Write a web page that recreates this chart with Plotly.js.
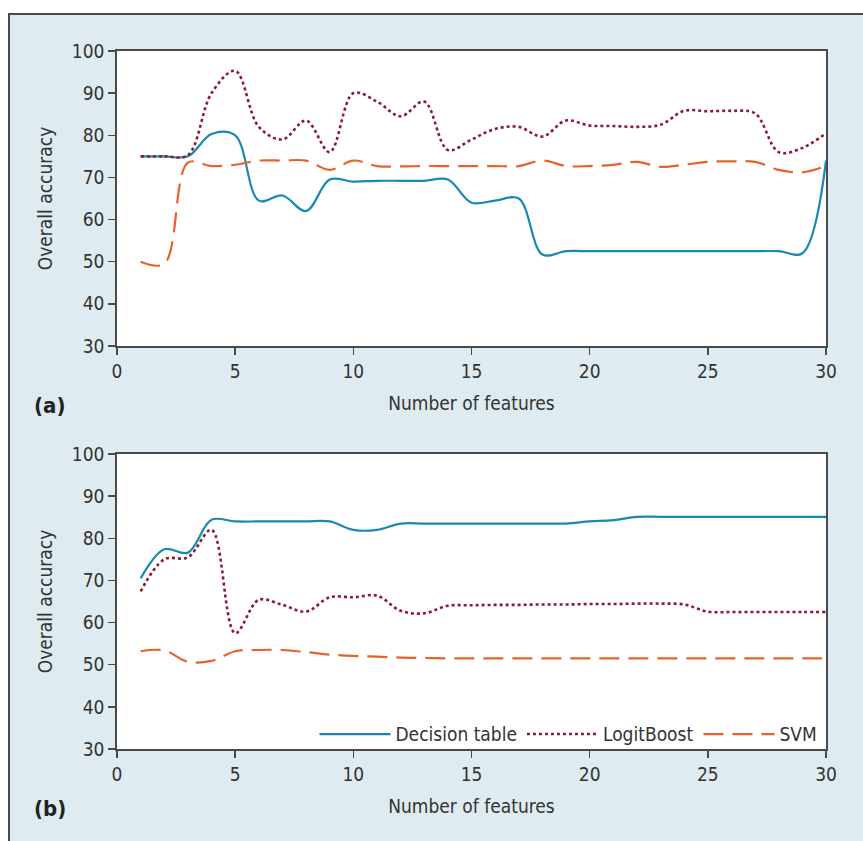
<!DOCTYPE html>
<html>
<head>
<meta charset="utf-8">
<script src="https://cdn.plot.ly/plotly-3.0.1.min.js"></script>
<style>
  html, body { margin: 0; padding: 0; background: #ffffff; }
  #frame { position: absolute; left: 8px; top: 13px; width: 855px; height: 828px;
           border-left: 2px solid #4a4a4a; border-top: 2px solid #4a4a4a; background: #deebf1; }
  #chart { width: 853px; height: 826px; }
</style>
</head>
<body>
<div id="frame"><div id="chart"></div></div>
<script>
// ---- data ----
const features = [1,2,3,4,5,6,7,8,9,10,11,12,13,14,15,16,17,18,19,20,21,22,23,24,25,26,27,28,29,30];

// (a)
const decisionTableA = [75,75,75,80.3,80,64.5,65.7,62,69.5,69,69.2,69.2,69.2,69.5,64,64.5,65,51.7,52.5,52.5,52.5,52.5,52.5,52.5,52.5,52.5,52.5,52.5,52,74];
const logitBoostA    = [75,75,75.3,90,95.3,82,79,83.5,76,90,88,84.5,88,76.5,79,81.5,82,79.7,83.5,82.3,82.2,82,82.5,85.8,85.7,85.8,85.2,76,77,80.5];
const svmA           = [50,49.5,73.5,72.7,73,74,74,74,71.8,74,72.7,72.6,72.7,72.7,72.7,72.7,72.7,74,72.7,72.7,73,73.7,72.5,73,73.7,73.8,73.7,71.8,71.2,72.7];

// (b)
const decisionTableB = [70.5,77.4,76.6,84.4,84,84,84,84,84,82,82,83.5,83.5,83.5,83.5,83.5,83.5,83.5,83.5,84,84.3,85.1,85.1,85.1,85.1,85.1,85.1,85.1,85.1,85.1];
const logitBoostB    = [67.4,75,75.5,82,57.5,65.4,64.2,62.6,66,66,66.4,62.8,62.2,64,64.1,64.2,64.2,64.3,64.3,64.4,64.4,64.5,64.5,64.3,62.6,62.5,62.5,62.5,62.5,62.5];
const svmB           = [53.2,53.4,50.7,50.9,53.2,53.5,53.5,53,52.4,52.1,51.9,51.7,51.6,51.5,51.5,51.5,51.5,51.5,51.5,51.5,51.5,51.5,51.5,51.5,51.5,51.5,51.5,51.5,51.5,51.5];

const seriesNames = ["Decision table", "LogitBoost", "SVM"];
const xTickVals = [0,5,10,15,20,25,30];
const yTickVals = [30,40,50,60,70,80,90,100];
const xTitle = "Number of features";
const yTitle = "Overall accuracy";
const panelLabels = ["(a)", "(b)"];

// ---- styles ----
const FONT = "'DejaVu Sans Condensed', 'Liberation Sans Narrow', Arial, sans-serif";
const FS = 19;
const styles = [
  {color: "#1689b4", width: 2.2, dash: "solid"},
  {color: "#8e1b2c", width: 2.6, dash: "dot"},
  {color: "#e8612b", width: 2.2, dash: "20px,9px"}
];

function mk(x, y, i, xa, ya, show) {
  return {
    x: x, y: y, type: "scatter", mode: "lines", name: seriesNames[i],
    xaxis: xa, yaxis: ya, showlegend: show,
    line: {color: styles[i].color, width: styles[i].width, dash: styles[i].dash, shape: "spline", smoothing: 1}
  };
}

const traces = [
  mk(features, decisionTableA, 0, "x", "y", false),
  mk(features, logitBoostA, 1, "x", "y", false),
  mk(features, svmA, 2, "x", "y", false),
  mk(features, decisionTableB, 0, "x2", "y2", true),
  mk(features, logitBoostB, 1, "x2", "y2", true),
  mk(features, svmB, 2, "x2", "y2", true)
];

function xax(anchor) {
  return {
    anchor: anchor, domain: [0,1], range: [0,30], tickmode: "array", tickvals: xTickVals,
    ticks: "outside", ticklen: 7, tickwidth: 1.5, tickcolor: "#4a4a4a",
    showline: true, linecolor: "#4a4a4a", linewidth: 1.8, mirror: true,
    showgrid: false, zeroline: false,
    tickfont: {family: FONT, size: FS, color: "#333"},
    title: {text: xTitle, font: {family: FONT, size: FS, color: "#333"}, standoff: 16}
  };
}
function yax(anchor, dom) {
  return {
    anchor: anchor, domain: dom, range: [30,100], tickmode: "array", tickvals: yTickVals,
    ticks: "outside", ticklen: 7, tickwidth: 1.5, tickcolor: "#4a4a4a",
    showline: true, linecolor: "#4a4a4a", linewidth: 1.8, mirror: true,
    showgrid: false, zeroline: false,
    tickfont: {family: FONT, size: FS, color: "#333"},
    title: {text: yTitle, font: {family: FONT, size: FS, color: "#333"}, standoff: 14}
  };
}

const layout = {
  width: 853, height: 826,
  margin: {l: 107, r: 37, t: 36, b: 92},
  paper_bgcolor: "rgba(0,0,0,0)",
  plot_bgcolor: "#ffffff",
  font: {family: FONT, size: FS, color: "#333"},
  xaxis: xax("y"),
  yaxis: yax("x", [0.5774, 1]),
  xaxis2: xax("y2"),
  yaxis2: yax("x2", [0, 0.4226]),
  showlegend: true,
  legend: {
    orientation: "h", x: 0.995, xanchor: "right", y: -0.006, yanchor: "bottom",
    bgcolor: "rgba(0,0,0,0)", font: {family: FONT, size: FS, color: "#333"},
    itemwidth: 71, tracegroupgap: 0
  },
  annotations: [
    {text: "<b>" + panelLabels[0] + "</b>", xref: "paper", yref: "paper", x: -0.12, y: 0.5774, xanchor: "left", yanchor: "top", yshift: -45, showarrow: false, font: {family: FONT, size: 22, color: "#222"}},
    {text: "<b>" + panelLabels[1] + "</b>", xref: "paper", yref: "paper", x: -0.12, y: 0, xanchor: "left", yanchor: "top", yshift: -45, showarrow: false, font: {family: FONT, size: 22, color: "#222"}}
  ]
};

Plotly.newPlot("chart", traces, layout, {displayModeBar: false, staticPlot: true});
</script>
</body>
</html>
